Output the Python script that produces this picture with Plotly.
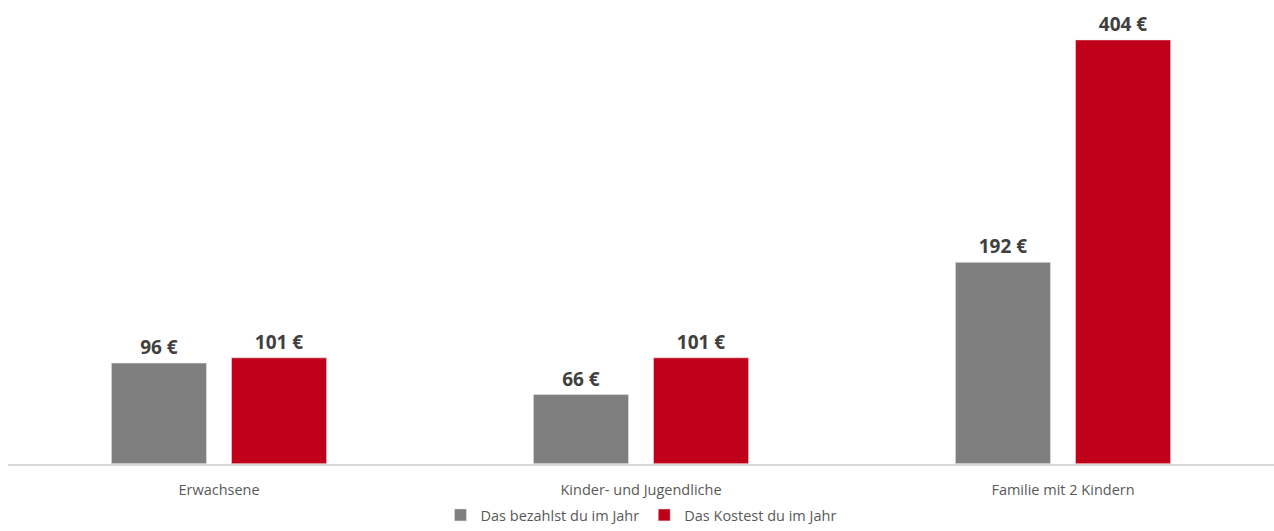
import plotly.graph_objects as go

categories = ["Erwachsene", "Kinder- und Jugendliche", "Familie mit 2 Kindern"]
paid = [96, 66, 192]
cost = [101, 101, 404]
series_names = ["Das bezahlst du im Jahr", "Das Kostest du im Jahr"]

label_font = dict(family="Open Sans", size=19, color="#404040", weight="bold")

fig = go.Figure()
fig.add_trace(go.Bar(
    x=categories, y=paid, name=series_names[0],
    marker=dict(color="#7F7F7F"),
    text=[f"{v} €" for v in paid], textposition="outside",
    textfont=label_font, cliponaxis=False,
))
fig.add_trace(go.Bar(
    x=categories, y=cost, name=series_names[1],
    marker=dict(color="#C00018"),
    text=[f"{v} €" for v in cost], textposition="outside",
    textfont=label_font, cliponaxis=False,
))

fig.update_layout(
    width=1274, height=531, autosize=False,
    margin=dict(l=8, r=0, t=10, b=66),
    paper_bgcolor="white", plot_bgcolor="white",
    barmode="group", bargap=0.431, bargroupgap=0.208,
    font=dict(family="Open Sans", size=14.5, color="#595959"),
    showlegend=True,
    legend=dict(orientation="h", x=0.5, xanchor="center",
                yref="container", y=-0.01, yanchor="bottom",
                font=dict(size=14.5, color="#595959"), itemwidth=30, traceorder="normal"),
    xaxis=dict(showline=True, linecolor="#D9D9D9", linewidth=1.5, ticks="",
               ticklabelstandoff=12,
               tickfont=dict(size=14.5, color="#595959")),
    yaxis=dict(visible=False, range=[0, 432.5]),
)

fig.write_html(
    "out.html",
    config={"responsive": False, "displayModeBar": False},
    post_script="document.body.style.margin='0';document.body.style.overflow='hidden';",
)
